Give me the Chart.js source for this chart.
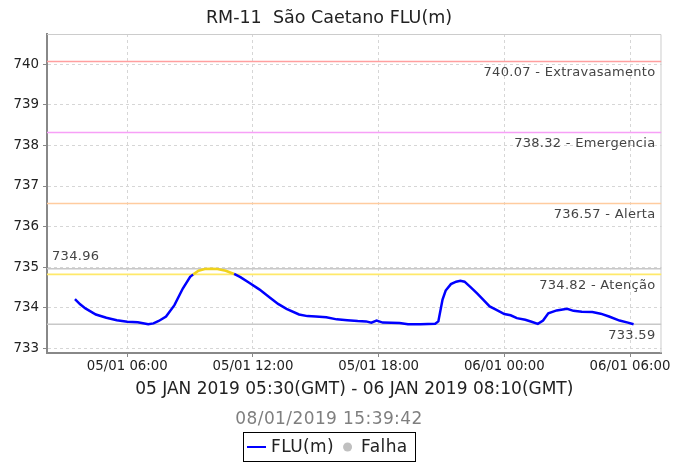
<!DOCTYPE html>
<html>
<head>
<meta charset="utf-8">
<script src="https://cdn.jsdelivr.net/npm/chart.js@4/dist/chart.umd.min.js"></script>
<style>
  html, body { margin: 0; padding: 0; background: #fff; }
</style>
</head>
<body>
<canvas id="fluChart" width="673" height="463"></canvas>
<script>
// hours counted from 05/01 00:00 (local time)
const hours = [3.5, 3.75, 4.0, 4.5, 5.0, 5.5, 6.0, 6.5, 7.0, 7.25,
    7.5, 7.85, 8.25, 8.65, 9.0, 9.15, 9.4, 9.7, 10.0, 10.3,
    10.7, 11.1, 11.4, 11.8, 12.3, 12.8, 13.2, 13.6, 14.2, 14.6,
    15.0, 15.5, 16.0, 16.5, 17.0, 17.4, 17.65, 17.9, 18.2, 19.0,
    19.4, 20.0, 20.7, 20.85, 21.05, 21.2, 21.45, 21.7, 21.9, 22.1,
    22.4, 22.7, 23.0, 23.3, 23.6, 24.0, 24.3, 24.6, 25.0, 25.3,
    25.6, 25.85, 26.1, 26.5, 27.0, 27.3, 27.7, 28.2, 28.6, 29.0,
    29.5, 29.9, 30.17];
const levels = [734.21, 734.08, 733.98, 733.83, 733.75, 733.69, 733.65, 733.64, 733.59, 733.61,
    733.67, 733.78, 734.06, 734.47, 734.76, 734.82, 734.91, 734.95, 734.96, 734.95,
    734.91, 734.83, 734.75, 734.62, 734.45, 734.25, 734.09, 733.97, 733.83, 733.79,
    733.78, 733.76, 733.71, 733.69, 733.67, 733.66, 733.63, 733.68, 733.63, 733.62,
    733.59, 733.59, 733.60, 733.66, 734.20, 734.42, 734.58, 734.64, 734.66, 734.64,
    734.50, 734.35, 734.19, 734.03, 733.95, 733.84, 733.81, 733.74, 733.70, 733.65,
    733.60, 733.68, 733.86, 733.93, 733.97, 733.92, 733.90, 733.89, 733.85, 733.78,
    733.68, 733.63, 733.59];

const xTickValues = [6, 12, 18, 24, 30];
const xTickLabels = ['05/01 06:00', '05/01 12:00', '05/01 18:00', '06/01 00:00', '06/01 06:00'];
const yTickValues = [733, 734, 735, 736, 737, 738, 739, 740];

const thresholdValues = [740.07, 738.32, 736.57, 734.82];
const thresholdNames = ['Extravasamento', 'Emergencia', 'Alerta', 'Atenção'];

const chartTitle = 'RM-11  São Caetano FLU(m)';
const periodText = '05 JAN 2019 05:30(GMT) - 06 JAN 2019 08:10(GMT)';
const generatedText = '08/01/2019 15:39:42';
const legendLabels = ['FLU(m)', 'Falha'];

// styles
const FONT = '"DejaVu Sans", sans-serif';
const thresholdColors = ['#ff9f9f', '#f7a0f7', '#ffcc9f', '#ffe96a'];
const seriesColor = '#0000ff';
const overColor = '#f0d21c';
const extremeColor = '#c8c8c8';
const centerX = 329;

const attention = thresholdValues[3];
const maxLevel = Math.max(...levels);
const minLevel = Math.min(...levels);
const span = hours[hours.length - 1] - hours[0];
const xMin = hours[0] - span * 0.05;
const xMax = hours[hours.length - 1] + span * 0.05;

function flatLine(value) {
    return [{ x: xMin, y: value }, { x: xMax, y: value }];
}

const datasets = [{
    label: legendLabels[0],
    data: hours.map((h, i) => ({ x: h, y: levels[i] })),
    borderColor: seriesColor,
    borderWidth: 2.5,
    pointRadius: 0,
    tension: 0,
    segment: {
        // stretch above the "Atenção" level is shown in yellow
        borderColor: ctx => (ctx.p0.parsed.y >= attention && ctx.p1.parsed.y >= attention) ? overColor : undefined
    }
}];

thresholdValues.forEach((v, i) => {
    datasets.push({
        label: thresholdNames[i],
        data: flatLine(v),
        borderColor: thresholdColors[i],
        borderWidth: 1.6,
        pointRadius: 0
    });
});
[maxLevel, minLevel].forEach(v => {
    datasets.push({
        label: v.toFixed(2),
        data: flatLine(v),
        borderColor: extremeColor,
        borderWidth: 1.6,
        pointRadius: 0
    });
});

// title, threshold captions, footer and boxed legend
const decorations = {
    id: 'decorations',
    beforeDatasetsDraw(chart) {
        const { ctx, chartArea: a } = chart;
        ctx.save();
        ctx.strokeStyle = '#cccccc';
        ctx.lineWidth = 1;
        ctx.beginPath();
        ctx.moveTo(a.left, a.top + 0.5);
        ctx.lineTo(a.right - 0.5, a.top + 0.5);
        ctx.lineTo(a.right - 0.5, a.bottom);
        ctx.stroke();
        ctx.restore();
    },
    afterDraw(chart) {
        const { ctx, chartArea: a, scales } = chart;
        const y = scales.y;
        ctx.save();

        // title
        ctx.fillStyle = '#222';
        ctx.font = '17.5px ' + FONT;
        ctx.textAlign = 'center';
        ctx.textBaseline = 'middle';
        ctx.fillText(chartTitle, centerX, 18);

        // threshold captions
        ctx.font = '13px ' + FONT;
        ctx.letterSpacing = '0.3px';
        ctx.fillStyle = '#444';
        ctx.textAlign = 'right';
        thresholdValues.forEach((v, i) => {
            ctx.fillText(v.toFixed(2) + ' - ' + thresholdNames[i], a.right - 6, y.getPixelForValue(v) + 11);
        });
        ctx.fillText(minLevel.toFixed(2), a.right - 6, y.getPixelForValue(minLevel) + 11);
        ctx.textAlign = 'left';
        ctx.fillText(maxLevel.toFixed(2), a.left + 5, y.getPixelForValue(maxLevel) - 12);

        // generation time
        ctx.letterSpacing = '0.4px';
        ctx.font = '17px ' + FONT;
        ctx.fillStyle = '#7f7f7f';
        ctx.textAlign = 'center';
        ctx.fillText(generatedText, centerX, 420);

        // legend
        ctx.letterSpacing = '0.4px';
        ctx.font = '17px ' + FONT;
        const w1 = ctx.measureText(legendLabels[0]).width;
        const w2 = ctx.measureText(legendLabels[1]).width;
        const boxW = 3.5 + 19 + 5 + w1 + 9 + 9 + 9 + w2 + 8;
        const boxL = Math.round(centerX - boxW / 2) + 0.5;
        const boxT = 432.5;
        const midY = 447;
        ctx.strokeStyle = '#000';
        ctx.lineWidth = 1;
        ctx.strokeRect(boxL, boxT, Math.round(boxW), 29);

        let x = boxL + 3.5;
        ctx.strokeStyle = seriesColor;
        ctx.lineWidth = 2;
        ctx.beginPath();
        ctx.moveTo(x, midY);
        ctx.lineTo(x + 19, midY);
        ctx.stroke();
        x += 19 + 5;
        ctx.fillStyle = '#222';
        ctx.textAlign = 'left';
        ctx.fillText(legendLabels[0], x, midY + 1);
        x += w1 + 9;
        ctx.fillStyle = '#c0c0c0';
        ctx.beginPath();
        ctx.arc(x + 4.5, midY, 4.5, 0, Math.PI * 2);
        ctx.fill();
        x += 9 + 9;
        ctx.fillStyle = '#222';
        ctx.fillText(legendLabels[1], x, midY + 1);

        ctx.restore();
    }
};

const chart = new Chart(document.getElementById('fluChart'), {
    type: 'line',
    data: { datasets: datasets },
    options: {
        responsive: false,
        animation: false,
        devicePixelRatio: 1,
        layout: { padding: { top: 34, right: 11, bottom: 63, left: 0 } },
        plugins: {
            legend: { display: false },
            tooltip: { enabled: false }
        },
        scales: {
            x: {
                type: 'linear',
                min: xMin,
                max: xMax,
                afterBuildTicks: scale => { scale.ticks = xTickValues.map(v => ({ value: v })); },
                afterFit: scale => { scale.height = 47; },
                ticks: {
                    callback: (value, index) => xTickLabels[index],
                    font: { family: FONT, size: 13.3 },
                    color: '#222',
                    padding: 2,
                    maxRotation: 0
                },
                grid: { color: '#d6d6d6', tickColor: '#888', tickLength: 4 },
                border: { color: '#888', width: 2, dash: [3, 3] },
                title: {
                    display: true,
                    text: periodText,
                    font: { family: FONT, size: 17 },
                    color: '#222',
                    padding: { top: 0, bottom: 0 }
                }
            },
            y: {
                type: 'linear',
                min: 732.88,
                max: 740.75,
                afterBuildTicks: scale => { scale.ticks = yTickValues.map(v => ({ value: v })); },
                afterFit: scale => { scale.width = 47; },
                ticks: {
                    font: { family: FONT, size: 13.4 },
                    color: '#222',
                    padding: 4
                },
                grid: { color: '#d6d6d6', tickColor: '#888', tickLength: 4 },
                border: { color: '#888', width: 2, dash: [3, 3] }
            }
        }
    },
    plugins: [decorations]
});
</script>
</body>
</html>
